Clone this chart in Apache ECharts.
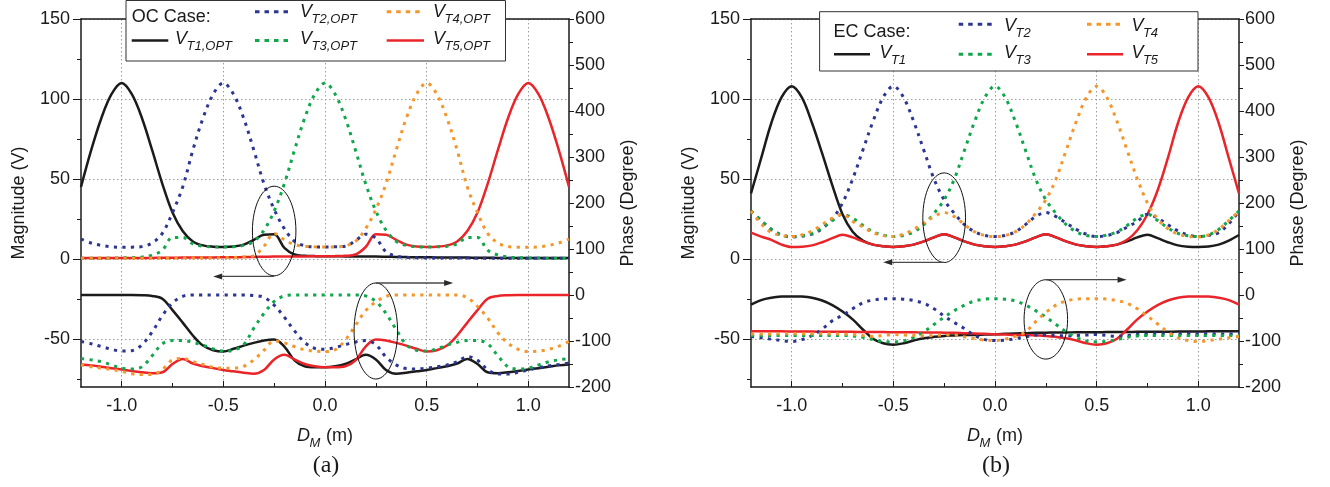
<!DOCTYPE html>
<html>
<head>
<meta charset="utf-8">
<title>Induced voltage vs. receiver position</title>
<script src="https://cdn.jsdelivr.net/npm/echarts@6/dist/echarts.min.js"></script>
<style>
  html, body { margin: 0; padding: 0; background: #ffffff; }
  #chart { width: 1330px; height: 487px; }
</style>
</head>
<body>
<div id="chart"></div>
<script>
// Receiver position D_M (m)
const dm = [-1.2, -1.15, -1.1, -1.05, -1.0, -0.95, -0.9, -0.85, -0.8, -0.75, -0.7, -0.65, -0.6, -0.55, -0.5, -0.45, -0.4, -0.35, -0.3, -0.25, -0.2, -0.15, -0.1, -0.05, 0,
            0.05, 0.1, 0.15, 0.2, 0.25, 0.3, 0.35, 0.4, 0.45, 0.5, 0.55, 0.6, 0.65, 0.7, 0.75, 0.8, 0.85, 0.9, 0.95, 1.0, 1.05, 1.1, 1.15, 1.2];

// Tick values
const xMajor = [-1.0, -0.5, 0.0, 0.5, 1.0];
const xMinor = [-0.75, -0.25, 0.25, 0.75];
const magMajor = [-50, 0, 50, 100, 150];
const magMinor = [-75, -25, 25, 75, 125];

// (a) OC case — magnitude (V)
const ocMagT1 = [45, 68, 88, 103, 110, 103, 88, 68, 47, 29, 17.5, 11, 8.5, 7.7, 7.5, 7.8, 9, 12, 15.2, 15.5, 7, 2.8, 2, 1.8, 1.7, 1.7, 1.6, 1.6, 1.5, 1.5, 1.4, 1.3, 1.2, 1.1, 1.1, 1, 1, 0.9, 0.9, 0.8, 0.8, 0.7, 0.7, 0.7, 0.6, 0.6, 0.6, 0.6, 0.6];
const ocMagT2 = [12.5, 10, 8.5, 7.6, 7.3, 7.4, 7.8, 10, 16, 29, 45, 68, 88, 103, 110, 103, 88, 68, 47, 31, 19, 11, 8.3, 7.6, 7.5, 7.7, 8, 11.5, 15.5, 13, 4.5, 1.8, 1, 0.8, 0.7, 0.7, 0.6, 0.6, 0.6, 0.5, 0.5, 0.5, 0.5, 0.5, 0.5, 0.5, 0.5, 0.5, 0.5];
const ocMagT3 = [0.5, 0.5, 0.5, 0.6, 0.7, 0.8, 1.2, 2.5, 5.5, 13.5, 13.5, 9.5, 8, 7.6, 7.5, 7.7, 8.5, 11, 18, 30, 47, 68, 88, 103, 110, 103, 88, 68, 47, 30, 18, 11, 8.5, 7.7, 7.5, 7.6, 8, 9.5, 13.5, 13.5, 5.5, 2.5, 1.2, 0.8, 0.7, 0.6, 0.5, 0.5, 0.5];
const ocMagT4 = [0.5, 0.5, 0.5, 0.5, 0.5, 0.5, 0.5, 0.5, 0.5, 0.5, 0.6, 0.6, 0.6, 0.7, 0.8, 1, 1.3, 2, 8, 16, 12, 9, 8, 7.6, 7.5, 7.6, 8.3, 11, 19, 31, 47, 68, 88, 103, 110, 103, 88, 68, 45, 29, 16, 10, 7.8, 7.4, 7.3, 7.6, 8.5, 10, 12.5];
const ocMagT5 = [0.6, 0.6, 0.6, 0.6, 0.6, 0.7, 0.7, 0.7, 0.8, 0.8, 0.9, 0.9, 1, 1, 1.1, 1.1, 1.2, 1.3, 1.4, 1.5, 1.5, 1.6, 1.6, 1.7, 1.7, 1.8, 2, 2.8, 7.5, 15.5, 15.2, 12, 9, 7.8, 7.5, 7.7, 8.5, 11, 17.5, 29, 47, 68, 88, 103, 110, 103, 88, 68, 45];

// (a) OC case — phase (degree)
const ocPhT1 = [0, 0, 0, 0, 0, 0, -0.5, -2, -8, -33, -60, -88, -110, -120, -123, -117, -110, -104, -99, -97, -112, -142, -155, -157, -157, -155, -150, -140, -130, -140, -163, -171, -169, -166, -163, -159, -155, -149, -139, -150, -168, -170, -168, -165, -162, -159, -156, -153, -151];
const ocPhT2 = [-101, -106, -112, -118, -122, -121, -108, -80, -45, -17, -3, 0, 0, 0, 0, 0, 0, -1, -5, -22, -48, -78, -103, -116, -118, -114, -108, -102, -99, -108, -135, -152, -160, -161, -159, -156, -152, -145, -134, -142, -162, -172, -172, -168, -163, -158, -154, -151, -148];
const ocPhT3 = [-138, -141, -145, -152, -159, -161, -156, -132, -106, -99, -99, -103, -109, -117, -122, -120, -108, -72, -40, -14, -2, 0, 0, 0, 0, 0, 0, 0, -2, -14, -40, -75, -108, -120, -122, -117, -109, -103, -99, -99, -106, -132, -156, -161, -159, -152, -145, -141, -138];
const ocPhT4 = [-152, -156, -159, -162, -166, -171, -173, -173, -162, -141, -138, -145, -151, -157, -159, -159, -155, -141, -120, -100, -104, -112, -119, -122, -123, -119, -98, -66, -34, -15, -3, 0, 0, 0, 0, 0, 0, 0, -6, -25, -50, -82, -105, -118, -123, -122, -118, -111, -101];
const ocPhT5 = [-151, -153, -156, -159, -162, -165, -168, -170, -168, -150, -139, -149, -155, -159, -163, -166, -169, -171, -163, -140, -130, -140, -150, -155, -157, -157, -155, -142, -112, -97, -99, -104, -110, -117, -123, -120, -110, -88, -60, -33, -8, -2, -0.5, 0, 0, 0, 0, 0, 0];

// (b) EC case — magnitude (V)
const ecMagT1 = [41, 63, 85, 101, 108, 101, 85, 66, 46, 28, 17, 11.5, 9, 8, 7.5, 8, 9, 11, 13.5, 15.5, 13.5, 11, 9, 8, 7.5, 8, 9, 11, 13.5, 15.5, 13.5, 11, 9, 8, 7.5, 8, 9, 11, 13.5, 15.2, 13, 10.5, 8.5, 7.7, 7.5, 7.8, 9, 11.5, 15];
const ecMagT2 = [30, 24, 18.5, 15, 13.75, 14.2, 15.5, 19, 25, 35, 50, 68, 86, 101, 108, 101, 86, 68, 50, 37, 28.5, 21.5, 17, 14.7, 14, 14.7, 17, 21.5, 26.5, 29, 26.5, 22.5, 18.5, 15.5, 14, 14.7, 16.5, 20, 23.5, 28, 25.5, 21.5, 17.5, 15, 14, 14.7, 16.5, 22, 30];
const ecMagT3 = [30, 24, 18.5, 15, 14, 14.5, 16, 19.5, 24, 28, 25.5, 21, 17, 15, 14, 14.7, 17, 21.5, 28.5, 37, 50, 68, 86, 101, 108, 101, 86, 68, 50, 37, 28.5, 21.5, 17, 14.7, 14, 15, 17, 21, 25.5, 28, 24, 19.5, 16, 14.5, 14, 15, 18.5, 24, 30];
const ecMagT4 = [30, 22, 16.5, 14.7, 14, 15, 17.5, 21.5, 25.5, 28, 23.5, 20, 16.5, 14.7, 14, 15.5, 18.5, 22.5, 26.5, 29, 26.5, 21.5, 17, 14.7, 14, 14.7, 17, 21.5, 28.5, 37, 50, 68, 86, 101, 108, 101, 86, 68, 50, 35, 25, 19, 15.5, 14.2, 13.75, 15, 18.5, 24, 30];
const ecMagT5 = [16.5, 14, 12, 9, 7.5, 7.7, 8.5, 10.5, 13, 15.2, 13.5, 11, 9, 8, 7.5, 8, 9, 11, 13.5, 15.5, 13.5, 11, 9, 8, 7.5, 8, 9, 11, 13.5, 15.5, 13.5, 11, 9, 8, 7.5, 8, 9, 12, 18, 28, 43, 63, 85, 101, 108, 101, 85, 63, 41];

// (b) EC case — phase (degree)
const ecPhT1 = [-21, -11, -6, -3.5, -3, -3.5, -6, -12, -22, -36, -53, -75, -95, -105, -108, -105, -99, -94, -91, -89, -88, -87, -87, -86, -85.5, -84.5, -83.5, -83, -82, -82, -81.5, -81.5, -81, -81, -81, -80.5, -80.5, -80.5, -80, -80, -80, -80, -79.5, -79.5, -79.5, -79, -79, -79, -79];
const ecPhT2 = [-90, -93, -96, -99, -101, -97, -88, -74, -56, -44, -30, -17, -11, -8.5, -8, -9, -12, -18, -30, -46, -60, -73, -88, -97, -99, -98, -95, -91, -87, -87, -88, -89, -88, -87, -86, -88, -90, -88, -86, -85, -84, -84, -84, -84, -84, -84, -85, -85, -85];
const ecPhT3 = [-88, -88, -88, -88, -88, -88, -88, -88, -88, -88, -89, -92, -97, -101, -102, -100, -92, -80, -64, -48, -34, -22, -13, -9, -8, -9, -13, -22, -34, -48, -64, -80, -92, -100, -102, -101, -97, -92, -89, -88, -88, -88, -88, -88, -88, -88, -88, -88, -88];
const ecPhT4 = [-85, -85, -85, -84, -84, -84, -84, -84, -84, -85, -86, -88, -90, -88, -86, -87, -88, -89, -88, -87, -87, -91, -95, -98, -99, -96, -90, -80, -58, -38, -22, -13, -9, -8, -8, -9, -12, -18, -30, -46, -63, -80, -93, -99, -101, -99, -96, -93, -90];
const ecPhT5 = [-79, -79, -79, -79, -79.5, -79.5, -79.5, -80, -80, -80, -80, -80.5, -80.5, -80.5, -81, -81, -81, -81.5, -81.5, -82, -82, -83, -83.5, -84.5, -85.5, -86, -87, -87, -88, -89, -91, -94, -99, -105, -108, -105, -95, -75, -53, -36, -22, -12, -6, -3.5, -3, -3.5, -6, -11, -21];

// Legend captions and subscripts
const panelTitles = ['OC Case:', 'EC Case:'];
const ocSubs = ['T1,OPT', 'T2,OPT', 'T3,OPT', 'T4,OPT', 'T5,OPT'];
const ecSubs = ['T1', 'T2', 'T3', 'T4', 'T5'];
const panelTags = ['(a)', '(b)'];

// ---- styling ----
const FONT = '"Liberation Sans", Arial, Helvetica, sans-serif';
const SERIF = '"Liberation Serif", "Times New Roman", serif';
const INK = '#1a1a1a';
const COLORS = ['#1b1b1b', '#2c3591', '#0fa64c', '#f5962a', '#ea2429'];
const DOTTED = [false, true, true, true, false];
const DRAW_ORDER = [0, 4, 1, 2, 3];

const panels = [
  { mag: [ocMagT1, ocMagT2, ocMagT3, ocMagT4, ocMagT5], ph: [ocPhT1, ocPhT2, ocPhT3, ocPhT4, ocPhT5], subs: ocSubs },
  { mag: [ecMagT1, ecMagT2, ecMagT3, ecMagT4, ecMagT5], ph: [ecPhT1, ecPhT2, ecPhT3, ecPhT4, ecPhT5], subs: ecSubs }
];

const GRID_LEFT = [81, 751];
const GRID_TOP = 19;
const GRID_W = 488;
const GRID_H = 368;

const axisLine = { show: true, onZero: false, lineStyle: { color: INK, width: 1.5 } };
const noLine = { show: false, onZero: false };
const gridLine = { show: true, lineStyle: { color: '#9c9c9c', width: 1, type: [1.5, 2.5] } };
const tickFont = { color: INK, fontSize: 18, fontFamily: FONT };

function xAxesFor(g) {
  return [
    {
      gridIndex: g, type: 'value', min: -1.2, max: 1.2, position: 'bottom',
      axisLine: axisLine,
      axisTick: { show: true, customValues: xMajor, inside: true, length: 6, lineStyle: { color: INK, width: 1 } },
      axisLabel: Object.assign({ customValues: xMajor, margin: 10, formatter: v => v.toFixed(1) }, tickFont),
      splitLine: gridLine
    },
    {
      gridIndex: g, type: 'value', min: -1.2, max: 1.2, position: 'bottom',
      axisLine: noLine,
      axisTick: { show: true, customValues: xMinor, inside: true, length: 4, lineStyle: { color: INK, width: 1 } },
      axisLabel: { show: false }, splitLine: { show: false }
    },
    {
      gridIndex: g, type: 'value', min: -1.2, max: 1.2, position: 'top',
      axisLine: axisLine, axisTick: { show: false }, axisLabel: { show: false }, splitLine: { show: false }
    }
  ];
}

function yAxesFor(g) {
  return [
    {
      gridIndex: g, type: 'value', min: -80, max: 150, position: 'left',
      axisLine: axisLine,
      axisTick: { show: true, customValues: magMajor, length: 8, lineStyle: { color: INK, width: 1 } },
      axisLabel: Object.assign({ customValues: magMajor, margin: 11 }, tickFont),
      splitLine: gridLine,
      name: 'Magnitude (V)', nameLocation: 'middle', nameGap: 53,
      nameTextStyle: { fontSize: 18, fontFamily: FONT, color: INK }
    },
    {
      gridIndex: g, type: 'value', min: -80, max: 150, position: 'left',
      axisLine: noLine,
      axisTick: { show: true, customValues: magMinor, length: 4, lineStyle: { color: INK, width: 1 } },
      axisLabel: { show: false }, splitLine: { show: false }
    },
    {
      gridIndex: g, type: 'value', min: -200, max: 600, interval: 100, position: 'right',
      axisLine: axisLine,
      axisTick: { show: true, length: 5, lineStyle: { color: INK, width: 1 } },
      minorTick: { show: true, splitNumber: 2, length: 4, lineStyle: { color: INK, width: 1 } },
      axisLabel: Object.assign({ margin: 6 }, tickFont),
      splitLine: { show: false },
      name: 'Phase (Degree)', nameLocation: 'middle', nameGap: 50,
      nameTextStyle: { fontSize: 18, fontFamily: FONT, color: INK }
    }
  ];
}

function lineSeries(g, yIndex, values, k) {
  return {
    type: 'line',
    xAxisIndex: g * 3,
    yAxisIndex: g * 3 + yIndex,
    data: dm.map((x, i) => [x, values[i]]),
    showSymbol: false,
    symbol: 'none',
    smooth: 0.35,
    silent: true,
    lineStyle: {
      color: COLORS[k],
      width: DOTTED[k] ? 3 : 2.5,
      type: DOTTED[k] ? [3.2, 5.3] : 'solid',
      cap: 'butt'
    },
    z: 3
  };
}

const xAxis = [], yAxis = [], series = [];
panels.forEach((p, g) => {
  xAxis.push(...xAxesFor(g));
  yAxis.push(...yAxesFor(g));
  DRAW_ORDER.forEach(k => series.push(lineSeries(g, 0, p.mag[k], k)));
  DRAW_ORDER.forEach(k => series.push(lineSeries(g, 2, p.ph[k], k)));
});

const chart = echarts.init(document.getElementById('chart'), null, { renderer: 'canvas' });
chart.setOption({
  animation: false,
  backgroundColor: '#ffffff',
  grid: GRID_LEFT.map(l => ({ left: l, top: GRID_TOP, width: GRID_W, height: GRID_H, outerBoundsMode: 'none' })),
  xAxis: xAxis,
  yAxis: yAxis,
  series: series
});

const graphics = [];

// symbol with a lowered subscript, e.g. V_T1 or D_M
function subscripted(x, y, main, sub, subGap) {
  graphics.push({
    type: 'text', z: 101, x: x, y: y,
    style: { text: main, fill: INK, font: 'italic 18px ' + FONT, align: 'left', verticalAlign: 'middle' }
  });
  graphics.push({
    type: 'text', z: 101, x: x + subGap, y: y + 7.5,
    style: { text: sub, fill: INK, font: 'italic 13px ' + FONT, align: 'left', verticalAlign: 'middle' }
  });
}

// ---- legend boxes ----
const legendLayout = [
  { box: [126, 0.5, 379.5, 60.5], title: [131.7, 17.5], sampleY: [11.7, 40.5], textY: [11.7, 38.5],
    cols: [[131.7, 168.3, 175], [255, 290, 300], [386.7, 424, 433]] },
  { box: [819.6, 11.7, 378.4, 59.3], title: [833.5, 32.3], sampleY: [24.3, 54.3], textY: [25.8, 53.3],
    cols: [[834, 870, 879.4], [958.7, 994.5, 1004], [1087, 1123, 1131.4]] }
];
// slot of each trace in the legend grid: [column, row]
const legendSlots = [[0, 1], [1, 0], [1, 1], [2, 0], [2, 1]];

legendLayout.forEach((L, g) => {
  graphics.push({
    type: 'rect', z: 100,
    shape: { x: L.box[0], y: L.box[1], width: L.box[2], height: L.box[3] },
    style: { fill: '#ffffff', stroke: '#333333', lineWidth: 1 }
  });
  graphics.push({
    type: 'text', z: 101, x: L.title[0], y: L.title[1],
    style: { text: panelTitles[g], fill: INK, font: '18px ' + FONT, align: 'left', verticalAlign: 'middle' }
  });
  legendSlots.forEach((slot, k) => {
    const c = L.cols[slot[0]];
    const sy = L.sampleY[slot[1]];
    graphics.push({
      type: 'line', z: 101,
      shape: { x1: c[0], y1: sy, x2: c[1], y2: sy },
      style: { stroke: COLORS[k], lineWidth: DOTTED[k] ? 3 : 2.5, lineDash: DOTTED[k] ? [4.5, 5] : null, lineCap: 'butt' }
    });
    subscripted(c[2], L.textY[slot[1]], 'V', panels[g].subs[k], 11.5);
  });

  // horizontal axis title D_M (m) and panel tag
  const cx = GRID_LEFT[g] + GRID_W / 2;
  subscripted(cx - 28, 436, 'D', 'M', 12.5);
  graphics.push({
    type: 'text', z: 101, x: cx + 1, y: 436,
    style: { text: '(m)', fill: INK, font: '18px ' + FONT, align: 'left', verticalAlign: 'middle' }
  });
  graphics.push({
    type: 'text', z: 101, x: cx + 1, y: 466,
    style: { text: panelTags[g], fill: INK, font: '24px ' + SERIF, align: 'center', verticalAlign: 'middle' }
  });
});

// ---- ellipse and arrow call-outs (data coordinates on the magnitude axis) ----
// [panel, centerX, centerMag, radiusX, radiusMag, arrowFromX, arrowToX, arrowMag]
const callouts = [
  [0, -0.25, 17.5, 0.107, 28, -0.25, -0.55, -10.9],
  [0, 0.25, -45, 0.107, 30, 0.25, 0.63, -15],
  [1, -0.25, 25.8, 0.105, 28, -0.25, -0.55, -2.1],
  [1, 0.25, -37.75, 0.107, 24.8, 0.25, 0.647, -12.9]
];
callouts.forEach(c => {
  const finder = { xAxisIndex: c[0] * 3, yAxisIndex: c[0] * 3 };
  const ctr = chart.convertToPixel(finder, [c[1], c[2]]);
  const edge = chart.convertToPixel(finder, [c[1] + c[3], c[2] + c[4]]);
  graphics.push({
    type: 'ellipse', z: 50,
    shape: { cx: ctr[0], cy: ctr[1], rx: Math.abs(edge[0] - ctr[0]), ry: Math.abs(edge[1] - ctr[1]) },
    style: { fill: null, stroke: '#111111', lineWidth: 1 }
  });
  const a0 = chart.convertToPixel(finder, [c[5], c[7]]);
  const a1 = chart.convertToPixel(finder, [c[6], c[7]]);
  const dir = a1[0] > a0[0] ? 1 : -1;
  const headLen = 9, headHalf = 3;
  graphics.push({
    type: 'line', z: 50,
    shape: { x1: a0[0], y1: a0[1], x2: a1[0] - dir * headLen * 0.6, y2: a1[1] },
    style: { stroke: '#4a4a4a', lineWidth: 1.3 }
  });
  graphics.push({
    type: 'polygon', z: 50,
    shape: { points: [[a1[0], a1[1]], [a1[0] - dir * headLen, a1[1] - headHalf], [a1[0] - dir * headLen, a1[1] + headHalf]] },
    style: { fill: '#2a2a2a' }
  });
});

chart.setOption({ graphic: graphics });
</script>
</body>
</html>
